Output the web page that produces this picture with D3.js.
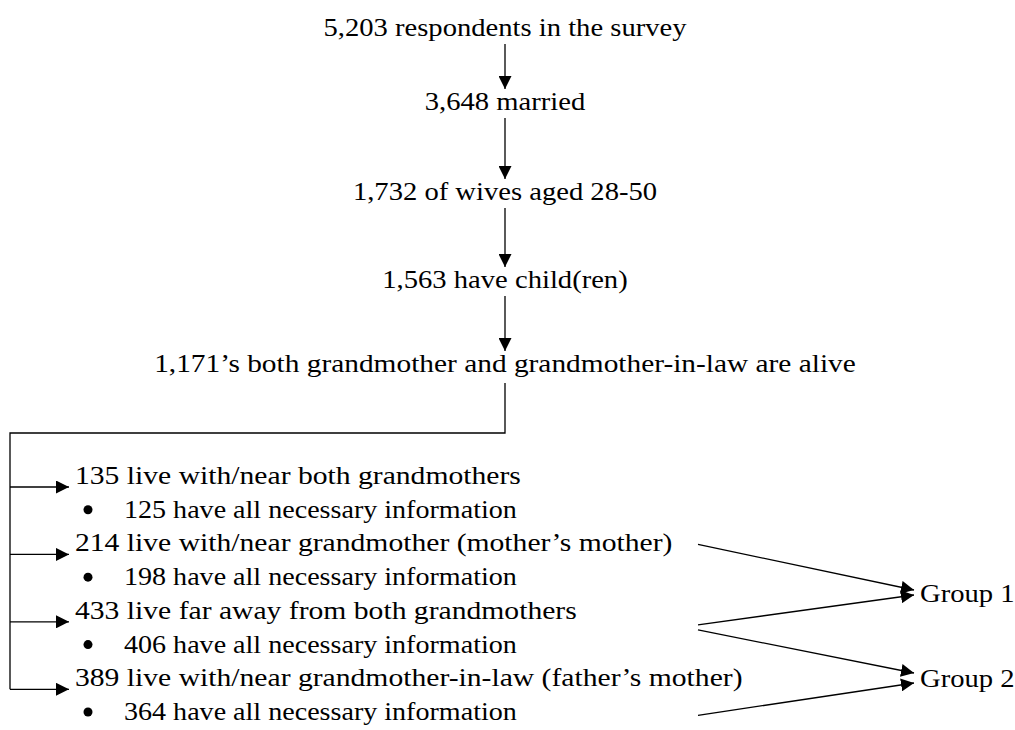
<!DOCTYPE html>
<html lang="en">
<head>
<meta charset="utf-8">
<script src="https://d3js.org/d3.v7.min.js"></script>
<style>
  body { margin: 0; background: #fff; }
  text { font-family: "Liberation Serif", "Times New Roman", serif; font-size: 26px; fill: #000; }
  .link { fill: none; stroke: #000; stroke-width: 1.3px; }
</style>
</head>
<body>
<svg width="1015" height="730"></svg>
<script>

// ---- data ----
var steps = [
  "5,203 respondents in the survey",
  "3,648 married",
  "1,732 of wives aged 28-50",
  "1,563 have child(ren)",
  "1,171\u2019s both grandmother and grandmother-in-law are alive"
];

var branches = [
  "135 live with/near both grandmothers",
  "214 live with/near grandmother (mother\u2019s mother)",
  "433 live far away from both grandmothers",
  "389 live with/near grandmother-in-law (father\u2019s mother)"
];

var complete = [
  "125 have all necessary information",
  "198 have all necessary information",
  "406 have all necessary information",
  "364 have all necessary information"
];

var groups = ["Group 1", "Group 2"];

// which branch feeds which group
var groupLinks = [
  { branch: 1, group: 0 },
  { branch: 2, group: 0 },
  { branch: 2, group: 1 },
  { branch: 3, group: 1 }
];

// ---- layout ----
var svg = d3.select("svg"),
    sx = 1.1,                  // the picture is a little stretched sideways
    cx = 505,
    stepY = [36, 110, 200, 288, 372],
    bracketY = 433,
    bracketX = 10;

var rowY = d3.scaleLinear().domain([0, 7]).range([484, 720]);
var groupY = d3.scaleLinear().domain([0, 1]).range([602, 687]);
var linkStart = [-7, 6, 11, 29];   // offset of each link start from its branch row
var linkEnd = [-12, -7, -14, -4];  // offset of each link end from its group row

svg.append("defs").append("marker")
    .attr("id", "head")
    .attr("markerUnits", "userSpaceOnUse")
    .attr("viewBox", "0 0 12 12")
    .attr("refX", 12)
    .attr("refY", 6)
    .attr("markerWidth", 13)
    .attr("markerHeight", 13)
    .attr("orient", "auto")
  .append("path")
    .attr("d", "M0,0L12,6L0,12Z")
    .attr("fill", "#000");

// top chain
svg.selectAll("text.step")
    .data(steps)
  .enter().append("text")
    .attr("class", "step")
    .attr("text-anchor", "middle")
    .attr("transform", function(d, i) {
      var s = i === steps.length - 1 ? 1.13 : sx;
      return "translate(" + cx + "," + stepY[i] + ") scale(" + s + ",1)";
    })
    .text(function(d) { return d; });

svg.selectAll("line.down")
    .data(d3.range(steps.length - 1))
  .enter().append("line")
    .attr("class", "link down")
    .attr("x1", cx).attr("x2", cx)
    .attr("y1", function(i) { return stepY[i] + 8; })
    .attr("y2", function(i) { return stepY[i + 1] - 21; })
    .attr("marker-end", "url(#head)");

// bracket down to the branches
var lastRow = rowY(2 * (branches.length - 1)) + 3;
svg.append("path")
    .attr("class", "link")
    .attr("d", "M" + cx + "," + (stepY[stepY.length - 1] + 11) +
               "V" + bracketY + "H" + bracketX + "V" + lastRow);

svg.selectAll("line.branch")
    .data(branches)
  .enter().append("line")
    .attr("class", "link branch")
    .attr("x1", bracketX).attr("x2", 69)
    .attr("y1", function(d, i) { return rowY(2 * i) + 3; })
    .attr("y2", function(d, i) { return rowY(2 * i) + 3; })
    .attr("marker-end", "url(#head)");

svg.selectAll("text.branch")
    .data(branches)
  .enter().append("text")
    .attr("class", "branch")
    .attr("transform", function(d, i) { return "translate(75," + rowY(2 * i) + ") scale(1.14,1)"; })
    .text(function(d) { return d; });

svg.selectAll("circle.bullet")
    .data(complete)
  .enter().append("circle")
    .attr("class", "bullet")
    .attr("cx", 88)
    .attr("cy", function(d, i) { return rowY(2 * i + 1) - 8; })
    .attr("r", 4.5)
    .attr("fill", "#000");

svg.selectAll("text.complete")
    .data(complete)
  .enter().append("text")
    .attr("class", "complete")
    .attr("transform", function(d, i) { return "translate(124," + rowY(2 * i + 1) + ") scale(1.08,1)"; })
    .text(function(d) { return d; });

// groups
svg.selectAll("line.group")
    .data(groupLinks)
  .enter().append("line")
    .attr("class", "link group")
    .attr("x1", 698)
    .attr("y1", function(d, i) { return rowY(2 * d.branch) + linkStart[i]; })
    .attr("x2", 914)
    .attr("y2", function(d, i) { return groupY(d.group) + linkEnd[i]; })
    .attr("marker-end", "url(#head)");

svg.selectAll("text.group")
    .data(groups)
  .enter().append("text")
    .attr("class", "group")
    .attr("transform", function(d, i) { return "translate(920," + groupY(i) + ") scale(" + sx + ",1)"; })
    .text(function(d) { return d; });

</script>
</body>
</html>
